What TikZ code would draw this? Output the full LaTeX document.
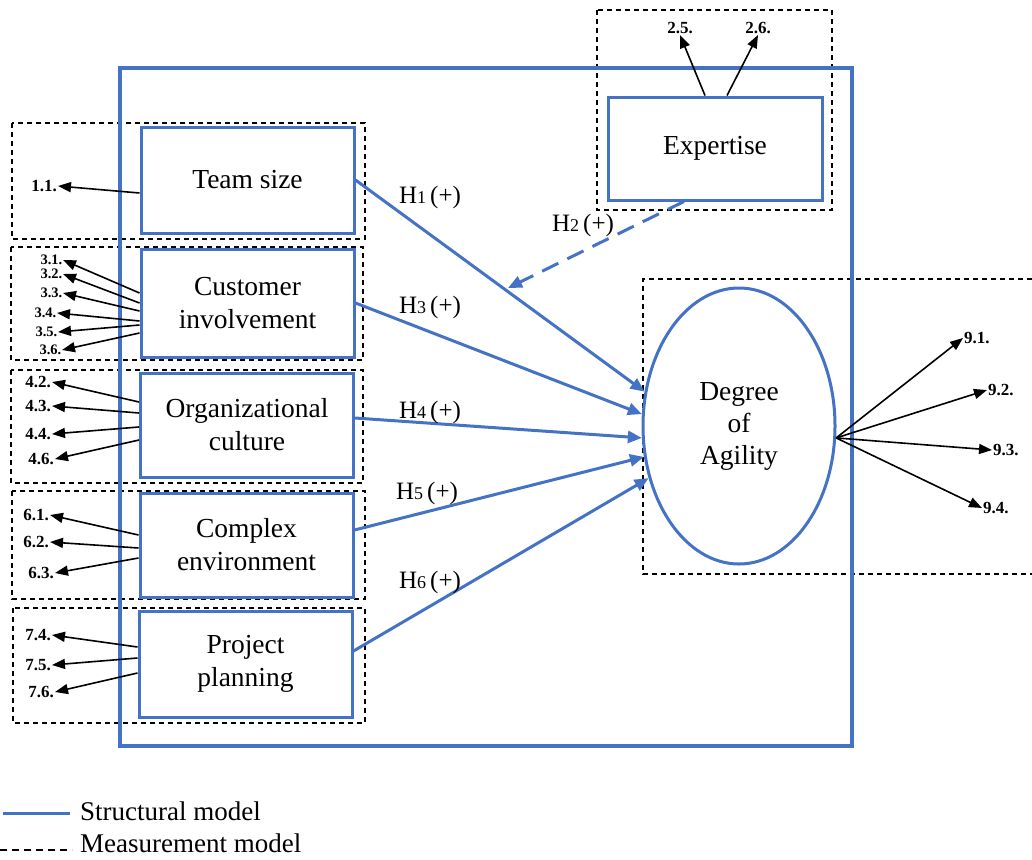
\documentclass[tikz,border=0pt]{standalone}
\usepackage{fontspec}
\setmainfont{Liberation Serif}
\usetikzlibrary{arrows.meta,calc,shapes.geometric}
\definecolor{smblue}{HTML}{4472C4}
\newcommand\hyplabel[1]{H{\fontsize{18}{18}\selectfont #1}\,(+)}
\tikzset{
  construct/.style={draw=smblue, line width=3pt, minimum width=213pt, minimum height=106pt,
    inner sep=0pt, align=center, font=\fontsize{27.5}{33}\selectfont},
  mbox/.style={draw=black, line width=1.2pt, dash pattern=on 5pt off 4pt},
  ind/.style={font=\fontsize{17}{17}\selectfont\bfseries, inner sep=1pt},
  indsmall/.style={font=\fontsize{14.5}{14.5}\selectfont\bfseries, inner sep=0.5pt},
  load/.style={draw=black, line width=1.6pt, -{Triangle[length=13pt,width=10pt]}},
  hypo/.style={draw=smblue, line width=3pt, -{Triangle[length=14pt,width=12pt]}},
  hlab/.style={font=\fontsize{25}{25}\selectfont, inner sep=0pt},
  legtext/.style={anchor=base west, inner sep=0pt, font=\fontsize{27}{27}\selectfont}
}
\begin{document}
\begin{tikzpicture}[x=1pt,y=-1pt]
\useasboundingbox (0,0) rectangle (1032,859);

% measurement model frames
\draw[mbox] (12,123) rectangle (365,239);
\draw[mbox] (11,247) rectangle (363,360);
\draw[mbox] (11,370) rectangle (363,483);
\draw[mbox] (12,491) rectangle (365,599);
\draw[mbox] (13,608) rectangle (365,723);
\draw[mbox] (597,10) rectangle (832,210);
\draw[mbox] (1032,279) -- (643,279) -- (643,574) -- (1032,574);

% structural model frame
\draw[smblue, line width=4pt] (120,68) rectangle (852,746);

% constructs
\node[construct] (ts) at (247.5,180) {Team size};
\node[construct, minimum height=108pt] (cu) at (247.5,303) {Customer\\involvement};
\node[construct, minimum height=104pt] (oc) at (247,425) {Organizational\\culture};
\node[construct, minimum height=104pt] (ce) at (246.5,545) {Complex\\environment};
\node[construct] (pp) at (245.5,664) {Project\\planning};
\node[construct, minimum width=214pt, minimum height=103pt] (ex) at (715,148.5) {Expertise};
\node[ellipse, draw=smblue, line width=3pt, minimum width=192pt, minimum height=276pt,
      inner sep=0pt, align=center, font=\fontsize{27.5}{32}\selectfont] (ag) at (739,426)
      {Degree\\of\\Agility};

% indicators
\node[ind, anchor=east] (i11) at (58,186) {1.1.};
\node[indsmall, anchor=east] (i31) at (63,260) {3.1.};
\node[indsmall, anchor=east] (i32) at (63,274) {3.2.};
\node[indsmall, anchor=east] (i33) at (63,293) {3.3.};
\node[indsmall, anchor=east] (i34) at (57,313) {3.4.};
\node[indsmall, anchor=east] (i35) at (58,332) {3.5.};
\node[indsmall, anchor=east] (i36) at (62,350) {3.6.};
\node[ind, anchor=east] (i42) at (52,382) {4.2.};
\node[ind, anchor=east] (i43) at (52,406) {4.3.};
\node[ind, anchor=east] (i44) at (52,434) {4.4.};
\node[ind, anchor=east] (i46) at (55,459) {4.6.};
\node[ind, anchor=east] (i61) at (50,515) {6.1.};
\node[ind, anchor=east] (i62) at (50,542) {6.2.};
\node[ind, anchor=east] (i63) at (55,573) {6.3.};
\node[ind, anchor=east] (i74) at (52,635) {7.4.};
\node[ind, anchor=east] (i75) at (52,665) {7.5.};
\node[ind, anchor=east] (i76) at (55,692) {7.6.};
\node[ind, anchor=south] (i25) at (680,35) {2.5.};
\node[ind, anchor=south] (i26) at (758,35) {2.6.};
\node[ind, anchor=west] (i91) at (963,338) {9.1.};
\node[ind, anchor=west] (i92) at (987,390) {9.2.};
\node[ind, anchor=west] (i93) at (992,450) {9.3.};
\node[ind, anchor=west] (i94) at (982,508) {9.4.};

% loadings
\draw[load] ($(ts.west)+(0,13)$) -- (i11.east);
\draw[load] ($(cu.west)+(0,-10)$) -- (i31.east);
\draw[load] ($(cu.west)+(0,0)$) -- (i32.east);
\draw[load] ($(cu.west)+(0,8)$) -- (i33.east);
\draw[load] ($(cu.west)+(0,18)$) -- (i34.east);
\draw[load] ($(cu.west)+(0,22)$) -- (i35.east);
\draw[load] ($(cu.west)+(0,30)$) -- (i36.east);
\draw[load] ($(oc.west)+(0,-23)$) -- (i42.east);
\draw[load] ($(oc.west)+(0,-12)$) -- (i43.east);
\draw[load] ($(oc.west)+(0,2)$) -- (i44.east);
\draw[load] ($(oc.west)+(0,15)$) -- (i46.east);
\draw[load] ($(ce.west)+(0,-10)$) -- (i61.east);
\draw[load] ($(ce.west)+(0,3)$) -- (i62.east);
\draw[load] ($(ce.west)+(0,13)$) -- (i63.east);
\draw[load] ($(pp.west)+(0,-17)$) -- (i74.east);
\draw[load] ($(pp.west)+(0,-6)$) -- (i75.east);
\draw[load] ($(pp.west)+(0,9)$) -- (i76.east);
\draw[load] ($(ex.north)+(-10,0)$) -- (i25.south);
\draw[load] ($(ex.north)+(12,0)$) -- (i26.south);
\draw[load] (ag.-7) -- (i91.west);
\draw[load] (ag.-7) -- (i92.west);
\draw[load] (ag.-7) -- (i93.west);
\draw[load] (ag.-7) -- (i94.west);

% hypotheses
\coordinate (h2end) at (508,288);
\draw[hypo] (ts.east) -- (ag.160);
\draw[hypo] (cu.east) -- (ag.173);
\draw[hypo] ($(oc.east)+(0,-7)$) -- (ag.187);
\draw[hypo] ($(ce.east)+(0,-15)$) -- (ag.198);
\draw[hypo] ($(pp.east)+(0,-13)$) -- (ag.210);
\draw[hypo, dash pattern=on 18pt off 10pt] ($(ex.south)+(-31,0)$) -- (h2end);

\node[hlab] (l1) at (430,197) {\hyplabel{1}};
\node[hlab] (l2) at (583,225) {\hyplabel{2}};
\node[hlab] (l3) at (430,307) {\hyplabel{3}};
\node[hlab] (l4) at (430,412) {\hyplabel{4}};
\node[hlab] (l5) at (427,493) {\hyplabel{5}};
\node[hlab] (l6) at (430,582) {\hyplabel{6}};

% legend
\draw[smblue, line width=3pt] (3,813) -- (70,813);
\node[legtext] (lg1) at (80,820) {Structural model};
\draw[black, line width=1.2pt, dash pattern=on 7pt off 5pt] (0,850) -- (72,850);
\node[legtext] (lg2) at (80,852) {Measurement model};
\end{tikzpicture}
\end{document}
